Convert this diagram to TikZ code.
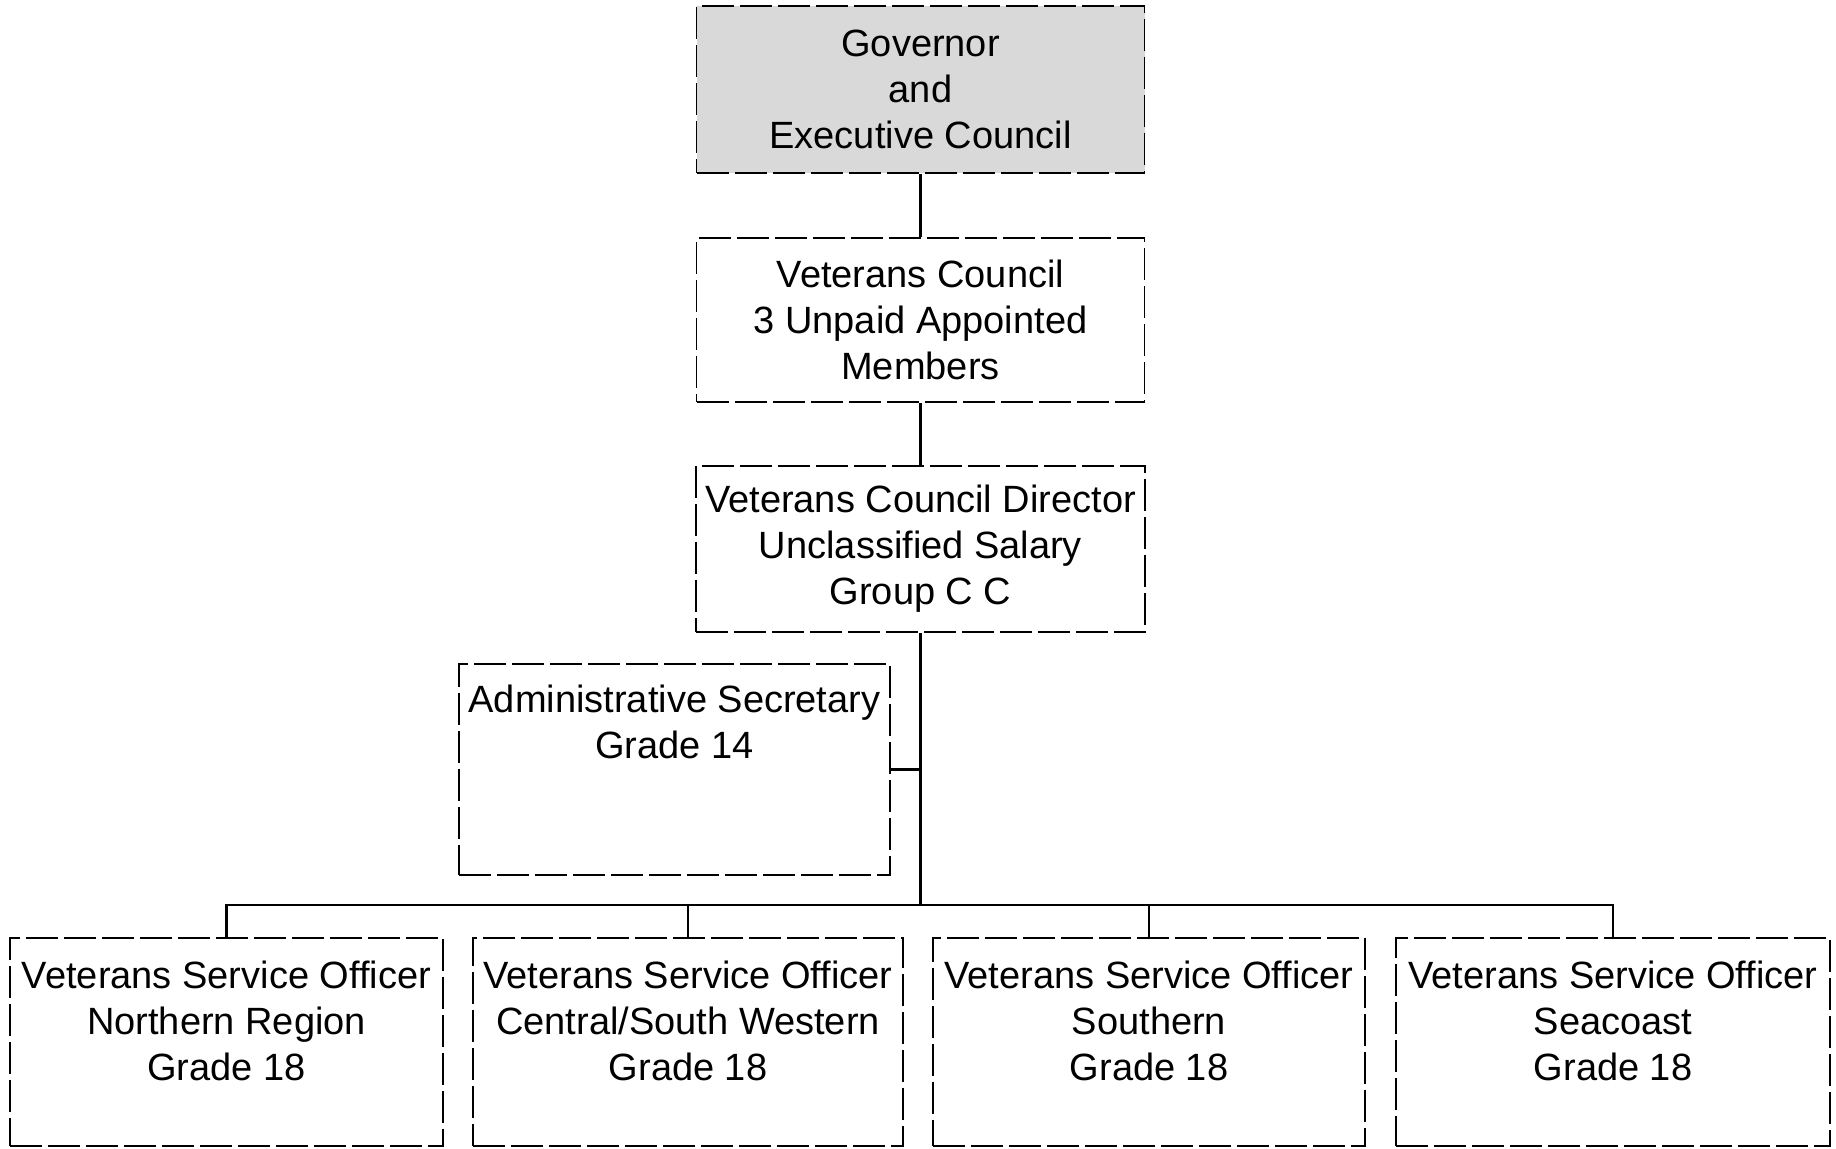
\documentclass[tikz,border=0pt]{standalone}
\usepackage{fontspec}
\setmainfont{Liberation Sans}
\tikzset{
  box/.style={draw, line width=0.9pt, dash pattern=on 16pt off 3pt, inner sep=0pt, rectangle},
  txt/.style={align=center, font=\fontsize{19pt}{23pt}\selectfont, inner sep=0pt},
  conn/.style={line width=1.1pt},
}
\begin{document}
\begin{tikzpicture}[x=0.5pt, y=-0.5pt]
\useasboundingbox (0,0) rectangle (1836,1149);
% top boxes
\node[box, fill=black!15, minimum width=224pt, minimum height=83.5pt, txt] (gov) at (920.5,89.5) {Governor\\and\\Executive Council};
\node[box, minimum width=224pt, minimum height=82pt, txt] (vc) at (920.5,320) {Veterans Council\\3 Unpaid Appointed\\Members};
\node[box, minimum width=224.5pt, minimum height=83pt, txt] (dir) at (920.5,549) {Veterans Council Director\\Unclassified Salary\\Group C C};
% admin secretary
\node[box, minimum width=215.5pt, minimum height=105.5pt] (adm) at (674.5,769.5) {};
\node[txt, anchor=north, yshift=-10.75pt] (admt) at (adm.north) {Administrative Secretary\\Grade 14};
% bottom boxes
\node[box, minimum width=216.5pt, minimum height=104pt] (b1) at (226.5,1042) {};
\node[box, minimum width=215pt, minimum height=104pt] (b2) at (688,1042) {};
\node[box, minimum width=216pt, minimum height=104pt] (b3) at (1149,1042) {};
\node[box, minimum width=217pt, minimum height=104pt] (b4) at (1613,1042) {};
\node[txt, anchor=north, yshift=-11.75pt] (b1t) at (b1.north) {Veterans Service Officer\\Northern Region\\Grade 18};
\node[txt, anchor=north, yshift=-11.75pt] (b2t) at (b2.north) {Veterans Service Officer\\Central/South Western\\Grade 18};
\node[txt, anchor=north, yshift=-11.75pt] (b3t) at (b3.north) {Veterans Service Officer\\Southern\\Grade 18};
\node[txt, anchor=north, yshift=-11.75pt] (b4t) at (b4.north) {Veterans Service Officer\\Seacoast\\Grade 18};
% connectors
\coordinate (bus) at (920.5,905);
\draw[conn] (gov.south) -- (vc.north);
\draw[conn] (vc.south) -- (dir.north);
\draw[conn] (dir.south) -- (bus);
\draw[conn] (adm.east) -- (adm.east -| bus);
\draw[conn] (b1.north) -- (b1.north |- bus) -- (b4.north |- bus) -- (b4.north);
\draw[conn] (b2.north) -- (b2.north |- bus);
\draw[conn] (b3.north) -- (b3.north |- bus);
\end{tikzpicture}
\end{document}
